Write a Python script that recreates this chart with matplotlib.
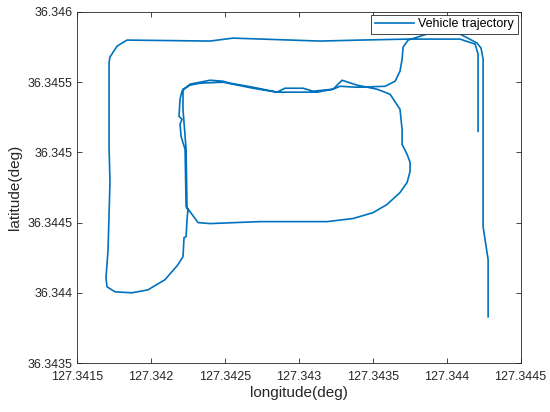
import matplotlib
matplotlib.use("Agg")
import matplotlib.pyplot as plt

# Vehicle trajectory (deg)
lon = [
    127.344213, 127.344213, 127.344193, 127.344091, 127.343733, 127.343415,
    127.343144, 127.342555, 127.342400, 127.341838, 127.341771, 127.341723,
    127.341717, 127.341717, 127.341723, 127.341710, 127.341696, 127.341703,
    127.341757, 127.341872, 127.341980, 127.342095, 127.342183, 127.342217,
    127.342224, 127.342238, 127.342244, 127.342251, 127.342238, 127.342231,
    127.342204, 127.342197, 127.342210, 127.342190, 127.342197, 127.342210,
    127.342265, 127.342332, 127.342400, 127.342488, 127.342535, 127.342691,
    127.342853, 127.342907, 127.343029, 127.343097, 127.343232, 127.343293,
    127.343394, 127.343530, 127.343618, 127.343685, 127.343699, 127.343699,
    127.343733, 127.343753, 127.343753, 127.343733, 127.343685, 127.343597,
    127.343503, 127.343367, 127.343192, 127.342738, 127.342400, 127.342319,
    127.342244,
    127.342238, 127.342217, 127.342217, 127.342265, 127.342332, 127.342488,
    127.342691, 127.342853, 127.343124, 127.343232, 127.343279, 127.343394,
    127.343584, 127.343652, 127.343685, 127.343699, 127.343706, 127.343740,
    127.343868, 127.344091, 127.344206, 127.344233, 127.344247, 127.344247,
    127.344281, 127.344281,
]
lat = [
    36.345150, 36.345700, 36.345771, 36.345807, 36.345807, 36.345800,
    36.345793, 36.345814, 36.345793, 36.345800, 36.345757, 36.345679,
    36.345643, 36.345036, 36.344786, 36.344307, 36.344107, 36.344043,
    36.344007, 36.344000, 36.344021, 36.344093, 36.344200, 36.344257,
    36.344393, 36.344400, 36.344521, 36.344593, 36.344614, 36.345021,
    36.345114, 36.345200, 36.345236, 36.345257, 36.345379, 36.345436,
    36.345486, 36.345500, 36.345514, 36.345507, 36.345493, 36.345464,
    36.345429, 36.345457, 36.345457, 36.345436, 36.345450, 36.345514,
    36.345479, 36.345450, 36.345414, 36.345307, 36.345164, 36.345057,
    36.344986, 36.344929, 36.344864, 36.344786, 36.344714, 36.344629,
    36.344571, 36.344529, 36.344507, 36.344507, 36.344493, 36.344500,
    36.344607,
    36.345021, 36.345307, 36.345450, 36.345479, 36.345493, 36.345500,
    36.345457, 36.345429, 36.345429, 36.345450, 36.345471, 36.345464,
    36.345471, 36.345507, 36.345579, 36.345664, 36.345750, 36.345800,
    36.345843, 36.345843, 36.345779, 36.345743, 36.345664, 36.344471,
    36.344236, 36.343829,
]

xticks = [127.3415, 127.342, 127.3425, 127.343, 127.3435, 127.344, 127.3445]
xticklabels = ["127.3415", "127.342", "127.3425", "127.343", "127.3435", "127.344", "127.3445"]
yticks = [36.3435, 36.344, 36.3445, 36.345, 36.3455, 36.346]
yticklabels = ["36.3435", "36.344", "36.3445", "36.345", "36.3455", "36.346"]

plt.rcParams['font.family'] = ['Liberation Sans', 'DejaVu Sans']

fig = plt.figure(figsize=(5.5, 4.12), dpi=100)
ax = fig.add_axes([77 / 550, 1 - 363 / 412, 443.5 / 550, 351 / 412])

ax.plot(lon, lat, color='#0072BD', lw=1.2, label='Vehicle trajectory')

ax.set_xlim(127.3415, 127.3445)
ax.set_ylim(36.3435, 36.346)
ax.set_xticks(xticks)
ax.set_xticklabels(xticklabels)
ax.set_yticks(yticks)
ax.set_yticklabels(yticklabels)

ax.tick_params(direction='in', length=3.5, width=0.6, color='#262626',
               labelsize=9, labelcolor='#262626', top=True, right=True)
ax.tick_params(axis='x', pad=6)
ax.tick_params(axis='y', pad=3)
for s in ax.spines.values():
    s.set_color('#262626')
    s.set_linewidth(0.6)

ax.set_xlabel('longitude(deg)', fontsize=11, color='#262626', labelpad=2)
ax.set_ylabel('latitude(deg)', fontsize=11, color='#262626', labelpad=4)

leg = ax.legend(loc='upper right', fontsize=9, fancybox=False, framealpha=1,
                edgecolor='#262626', borderaxespad=0.2, borderpad=0.3,
                handlelength=3.1, handletextpad=0.4)
leg.get_frame().set_linewidth(0.6)

fig.savefig('out.png', dpi=100)
